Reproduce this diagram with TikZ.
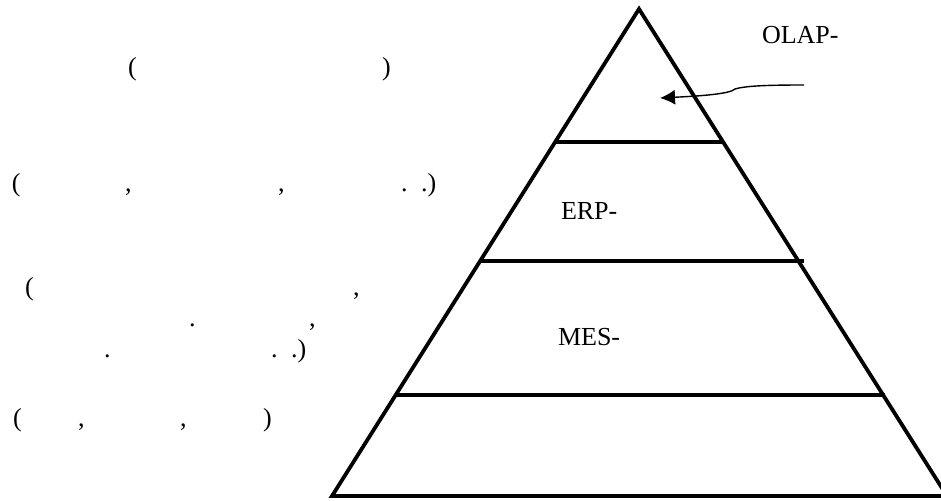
\documentclass[tikz,border=0pt]{standalone}
\usepackage{fontspec}
\setmainfont{Liberation Serif}
\usetikzlibrary{arrows.meta}
\tikzset{
  lbl/.style={inner sep=0pt,outer sep=0pt,anchor=base west,font=\fontsize{26}{28}\selectfont},
  edge/.style={line width=3.8pt,line join=miter},
  lead/.style={line width=1.4pt,-{Latex[length=15pt,width=15pt]}}
}
\begin{document}
\begin{tikzpicture}[x=1pt,y=-1pt]
\useasboundingbox (0,0) rectangle (941,500);
\fill[white] (0,0) rectangle (941,500);
\begin{scope}
\clip (0,0) rectangle (941,500);
\coordinate (apex) at (639,9);
\coordinate (bl) at (332,496);
\coordinate (br) at (947,496);
\draw[edge] (apex) -- (bl) -- (br) -- cycle;
\coordinate (a1) at (556,142); \coordinate (a2) at (722,142);
\coordinate (b1) at (481,261); \coordinate (b2) at (804,261);
\coordinate (c1) at (396,395); \coordinate (c2) at (885,395);
\draw[edge] (a1) -- (a2);
\draw[edge] (b1) -- (b2);
\draw[edge] (c1) -- (c2);
\end{scope}
\coordinate (s) at (804,85);
\coordinate (e) at (660,98);
\draw[lead] (s) .. controls (765,85) and (745,86) .. (735,89) .. controls (730,94) and (700,96) .. (e);
\node[lbl] (olap) at (762,44) {OLAP-};
\node[lbl] (erp) at (561,219) {ERP-};
\node[lbl] (mes) at (558,345) {MES-};
\node[lbl] (t1) at (128,76) {(};
\node[lbl] (t2) at (382,76) {)};
\node[lbl] (t3) at (12,191) {(};
\node[lbl] (t4) at (125,191) {,};
\node[lbl] (t5) at (278,191) {,};
\node[lbl] (t6) at (401,191) {.};
\node[lbl] (t7) at (421,191) {.)};
\node[lbl] (t8) at (25,295) {(};
\node[lbl] (t9) at (353,295) {,};
\node[lbl] (t10) at (189,326) {.};
\node[lbl] (t11) at (309,326) {,};
\node[lbl] (t12) at (104,357) {.};
\node[lbl] (t13) at (271,357) {.};
\node[lbl] (t14) at (291,357) {.)};
\node[lbl] (t15) at (13,426) {(};
\node[lbl] (t16) at (78,426) {,};
\node[lbl] (t17) at (180,426) {,};
\node[lbl] (t18) at (263,426) {)};
\end{tikzpicture}
\end{document}
